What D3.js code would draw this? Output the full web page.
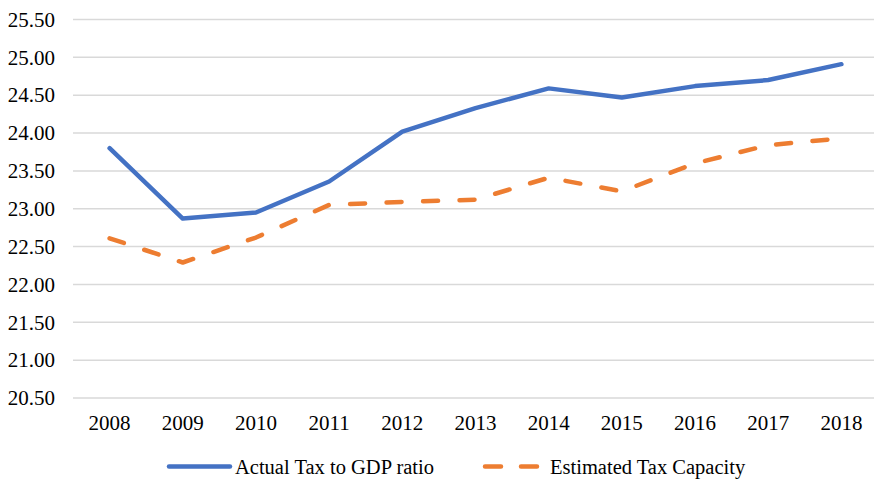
<!DOCTYPE html>
<html>
<head>
<meta charset="utf-8">
<script src="https://cdn.jsdelivr.net/npm/d3@7"></script>
<style>
  html, body { margin: 0; padding: 0; background: #fff; }
  svg { display: block; }
  text { font-family: "Liberation Serif", "Times New Roman", serif; fill: #000; }
</style>
</head>
<body>
<svg id="chart" width="874" height="480"></svg>
<script>
// Years on the horizontal axis
const years = ["2008", "2009", "2010", "2011", "2012", "2013", "2014", "2015", "2016", "2017", "2018"];
// Actual tax revenue as a share of GDP (%)
const actualTax = [23.80, 22.87, 22.95, 23.36, 24.02, 24.33, 24.59, 24.47, 24.62, 24.70, 24.91];
// Estimated tax capacity (%)
const taxCapacity = [22.61, 22.29, 22.62, 23.05, 23.09, 23.12, 23.41, 23.23, 23.60, 23.84, 23.93];
// Value-axis ticks
const yTicks = [20.5, 21.0, 21.5, 22.0, 22.5, 23.0, 23.5, 24.0, 24.5, 25.0, 25.5];
const seriesNames = ["Actual Tax to GDP ratio", "Estimated Tax Capacity"];

const svg = d3.select("#chart");
const margin = { left: 73, right: -4, top: 19.5, bottom: 82 };
const W = 874, H = 480;
const serif = "'Liberation Serif', 'Times New Roman', serif";

const x = d3.scaleBand().domain(years).range([margin.left, W - margin.right]);
const y = d3.scaleLinear().domain([20.5, 25.5]).range([H - margin.bottom, margin.top]);

// Horizontal gridlines
svg.append("g")
  .selectAll("line")
  .data(yTicks)
  .join("line")
  .attr("x1", margin.left)
  .attr("x2", W)
  .attr("y1", d => y(d))
  .attr("y2", d => y(d))
  .attr("stroke", "#d9d9d9")
  .attr("stroke-width", 1.5);

// Value axis labels
const yAxis = d3.axisLeft(y).tickValues(yTicks).tickFormat(d3.format(".2f")).tickSize(0).tickPadding(18);
const gy = svg.append("g").attr("transform", `translate(${margin.left},0)`).call(yAxis);
gy.select(".domain").remove();
gy.selectAll("text").style("font-size", "21px").style("font-family", serif).attr("fill", "#000");

// Category axis labels
const xAxis = d3.axisBottom(x).tickSize(0).tickPadding(17);
const gx = svg.append("g").attr("transform", `translate(0,${y(20.5)})`).call(xAxis);
gx.select(".domain").remove();
gx.selectAll("text").style("font-size", "21px").style("font-family", serif).attr("fill", "#000");

const cx = d => x(d) + x.bandwidth() / 2;
const line = d3.line().x((d, i) => cx(years[i])).y(d => y(d));
const dash = "15,21.5";

svg.append("path")
  .datum(actualTax)
  .attr("d", line)
  .attr("fill", "none")
  .attr("stroke", "#4472C4")
  .attr("stroke-width", 4.5)
  .attr("stroke-linejoin", "round")
  .attr("stroke-linecap", "round");

svg.append("path")
  .datum(taxCapacity)
  .attr("d", line)
  .attr("fill", "none")
  .attr("stroke", "#ED7D31")
  .attr("stroke-width", 4.5)
  .attr("stroke-dasharray", dash)
  .attr("stroke-linejoin", "round")
  .attr("stroke-linecap", "round");

// Legend
const legendY = 466.5;
const legend = svg.append("g");
legend.append("line")
  .attr("x1", 169).attr("x2", 230).attr("y1", legendY).attr("y2", legendY)
  .attr("stroke", "#4472C4").attr("stroke-width", 4.5).attr("stroke-linecap", "round");
legend.append("text")
  .attr("x", 235).attr("y", legendY + 7.5)
  .style("font-size", "20.5px").style("font-family", serif)
  .text(seriesNames[0]);
legend.append("line")
  .attr("x1", 485).attr("x2", 540).attr("y1", legendY).attr("y2", legendY)
  .attr("stroke", "#ED7D31").attr("stroke-width", 4.5).attr("stroke-linecap", "round")
  .attr("stroke-dasharray", "16,20");
legend.append("text")
  .attr("x", 550).attr("y", legendY + 7.5)
  .style("font-size", "20.5px").style("font-family", serif)
  .text(seriesNames[1]);
</script>
</body>
</html>
